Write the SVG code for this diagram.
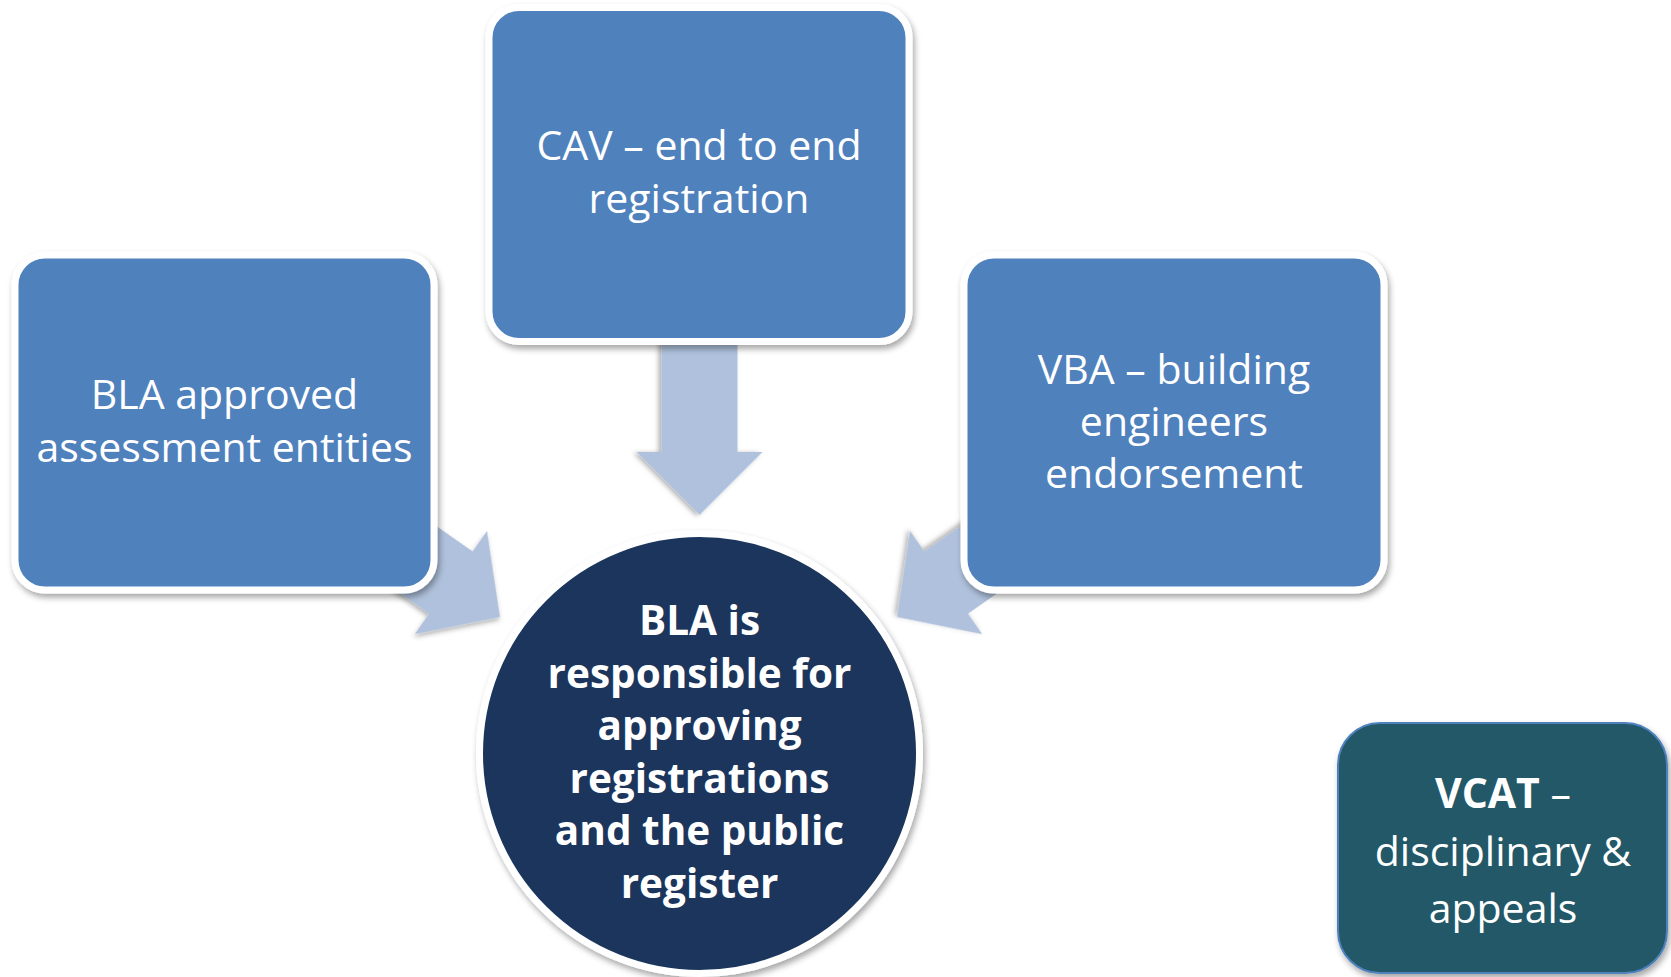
<svg xmlns="http://www.w3.org/2000/svg" width="1671" height="977" viewBox="0 0 1671 977">
<defs>
<filter id="sh" x="-20%" y="-20%" width="140%" height="140%">
<feDropShadow dx="2" dy="4" stdDeviation="3" flood-color="#000" flood-opacity="0.35"/>
</filter>
<filter id="sha" x="-20%" y="-20%" width="140%" height="140%">
<feDropShadow dx="1" dy="3" stdDeviation="2.5" flood-color="#000" flood-opacity="0.3"/>
</filter>
<style>
.box{fill:#4F81BD;stroke:#FFFFFF;stroke-width:7;filter:url(#sh)}
.arr{fill:#AFC1DC;filter:url(#sha)}
.t{font-family:"Open Sans","Liberation Sans",sans-serif;font-size:41px;fill:#FFFFFF;text-anchor:middle}
.b{font-weight:bold}
.c{font-size:40.5px}
</style>
</defs>
<rect width="1671" height="977" fill="#FFFFFF"/>
<g id="connectors">
<polygon class="arr" transform="translate(699.5,515) rotate(90)" points="0,0 -63,-63 -63,-38 -190,-38 -190,38 -63,38 -63,63"/>
<polygon class="arr" transform="translate(500,617) rotate(35)" points="0,0 -60,-63 -60,-38 -160,-38 -160,38 -60,38 -60,63"/>
<polygon class="arr" transform="translate(897,617) rotate(145)" points="0,0 -60,-63 -60,-38 -160,-38 -160,38 -60,38 -60,63"/>
</g>
<g id="node-cav">
<rect class="box" x="489" y="7.5" width="420" height="334" rx="30"/>
<text class="t" x="699" y="160">CAV – end to end</text>
<text class="t" x="699" y="213">registration</text>
</g>
<g id="node-bla-entities">
<rect class="box" x="15" y="255" width="419" height="335" rx="30"/>
<text class="t" x="224.5" y="409">BLA approved</text>
<text class="t" x="224.5" y="462">assessment entities</text>
</g>
<g id="node-vba">
<rect class="box" x="964" y="255" width="420" height="335" rx="30"/>
<text class="t" x="1174" y="384">VBA – building</text>
<text class="t" x="1174" y="436">engineers</text>
<text class="t" x="1174" y="488">endorsement</text>
</g>
<g id="node-bla">
<circle cx="699.5" cy="753.5" r="220" fill="#1A365D" stroke="#FFFFFF" stroke-width="7" filter="url(#sh)"/>
<text class="t b c" x="699.5" y="635">BLA is</text>
<text class="t b c" x="699.5" y="688">responsible for</text>
<text class="t b c" x="699.5" y="740">approving</text>
<text class="t b c" x="699.5" y="793">registrations</text>
<text class="t b c" x="699.5" y="845">and the public</text>
<text class="t b c" x="699.5" y="898">register</text>
</g>
<g id="node-vcat">
<rect x="1338" y="723" width="329" height="250" rx="42" fill="#215968" stroke="#4F81BD" stroke-width="2" filter="url(#sh)"/>
<text class="t" x="1503" y="808"><tspan class="b">VCAT</tspan> –</text>
<text class="t" x="1503" y="866">disciplinary &amp;</text>
<text class="t" x="1503" y="923">appeals</text>
</g>
</svg>
